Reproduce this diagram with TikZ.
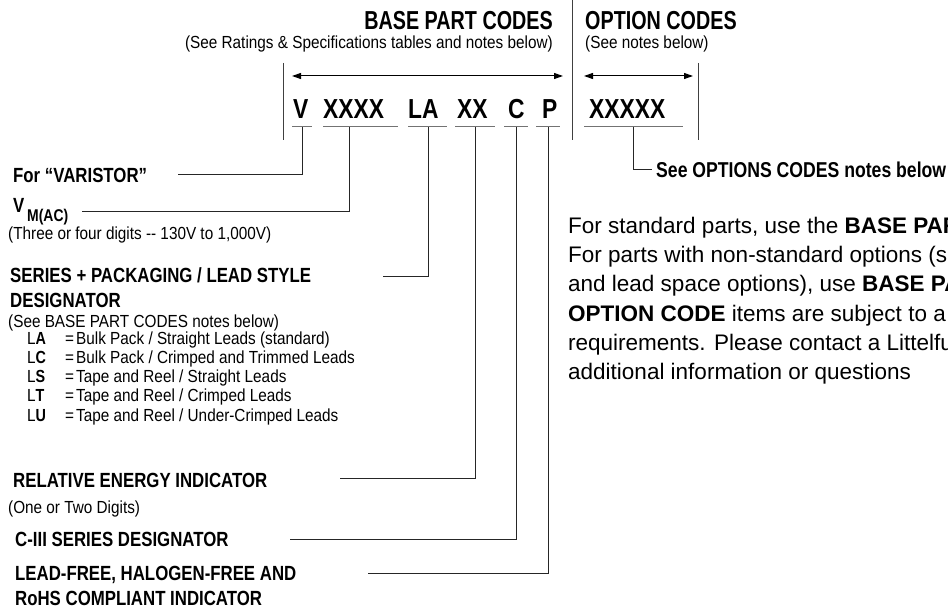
\documentclass[tikz,border=0pt]{standalone}
\usepackage{fontspec}
\setmainfont{Liberation Sans}
\newfontfamily\condB{Liberation Sans}[FakeStretch=0.82]
\newfontfamily\condR{Liberation Sans}[FakeStretch=0.875]
\newfontfamily\condT{Liberation Sans}[FakeStretch=0.76]
\newfontfamily\condC{Liberation Sans}[FakeStretch=0.83]
\usetikzlibrary{arrows.meta}
\begin{document}
\begin{tikzpicture}[x=1pt,y=-1pt,
  lbl/.style={anchor=base west,inner sep=0pt,font=\condB\bfseries\fontsize{20.5}{22}\selectfont},
  lblsub/.style={anchor=base west,inner sep=0pt,font=\condB\bfseries\fontsize{17}{18}\selectfont},
  note/.style={anchor=base west,inner sep=0pt,font=\condR\fontsize{17.5}{19}\selectfont},
  noter/.style={anchor=base east,inner sep=0pt,font=\condR\fontsize{17.5}{19}\selectfont},
  codetxt/.style={anchor=base west,inner sep=0pt,font=\condC\bfseries\fontsize{27.5}{29}\selectfont},
  ttlr/.style={anchor=base east,inner sep=0pt,font=\condT\bfseries\fontsize{26}{27}\selectfont},
  ttll/.style={anchor=base west,inner sep=0pt,font=\condT\bfseries\fontsize{26}{27}\selectfont},
  para/.style={anchor=base west,inner sep=0pt,font=\fontsize{22.5}{24}\selectfont},
  lead/.style={line width=1pt,black!85},
  uline/.style={line width=1pt,black!55},
  frame/.style={line width=1pt,black!75},
  arr/.style={line width=1pt,black,{Triangle[length=9pt,width=6pt]}-{Triangle[length=9pt,width=6pt]}}]
\useasboundingbox (0,0) rectangle (948,609);
\clip (0,0) rectangle (948,609);

% titles
\node[ttlr] (tbase) at (553,30) {BASE PART CODES};
\node[noter] (sbase) at (553,49) {(See Ratings \& Specifications tables and notes below)};
\node[ttll] (topt) at (585,30) {OPTION CODES};
\node[note] (sopt) at (585,49) {(See notes below)};

% frame lines
\draw[frame] (283,63) -- (283,140);
\draw[frame] (572,0) -- (572,140);
\draw[frame] (698,63) -- (698,140);

% range arrows
\coordinate (ab1) at (292,76); \coordinate (ab2) at (563,76);
\coordinate (ao1) at (584,76); \coordinate (ao2) at (693,76);
\draw[arr] (ab1) -- (ab2);
\draw[arr] (ao1) -- (ao2);

% code letters
\node[codetxt] (cV) at (293,119) {V};
\node[codetxt] (cX) at (323,119) {XXXX};
\node[codetxt] (cLA) at (408,119) {LA};
\node[codetxt] (cXX) at (457,119) {XX};
\node[codetxt] (cC) at (508,119) {C};
\node[codetxt] (cP) at (542,119) {P};
\node[codetxt] (cO) at (589,119) {XXXXX};

% underlines
\draw[uline] (292,127) -- (312,127);
\draw[uline] (323,127) -- (398,127);
\draw[uline] (408,127) -- (447,127);
\draw[uline] (455,127) -- (495,127);
\draw[uline] (504,127) -- (528,127);
\draw[uline] (536,127) -- (560,127);
\draw[uline] (584,127) -- (683,127);

\coordinate (uV) at (302,127);
\coordinate (uX) at (349,127);
\coordinate (uLA) at (428,127);
\coordinate (uXX) at (475,127);
\coordinate (uC) at (516,127);
\coordinate (uP) at (548,127);
\coordinate (uO) at (633,127);

% left labels
\node[lbl] (var) at (13,183) {For “VARISTOR”};
\node[lbl] (vm) at (13,213) {V};
\node[lblsub] (vmsub) at (27,222) {M(AC)};
\node[note] (vmn) at (8,240) {(Three or four digits {-}{-} 130V to 1,000V)};
\node[lbl] (ser1) at (10,283) {SERIES + PACKAGING / LEAD STYLE};
\node[lbl] (ser2) at (10,308) {DESIGNATOR};
\node[note] (sern) at (8,328) {(See BASE PART CODES notes below)};

\node[note] (k1) at (27,345) {L{\condB\bfseries A}};
\node[note] (e1) at (65,345) {=};
\node[note] (t1) at (76,345) {Bulk Pack / Straight Leads (standard)};
\node[note] (k2) at (27,364) {L{\condB\bfseries C}};
\node[note] (e2) at (65,364) {=};
\node[note] (t2) at (76,364) {Bulk Pack / Crimped and Trimmed Leads};
\node[note] (k3) at (27,383) {L{\condB\bfseries S}};
\node[note] (e3) at (65,383) {=};
\node[note] (t3) at (76,383) {Tape and Reel / Straight Leads};
\node[note] (k4) at (27,402) {L{\condB\bfseries T}};
\node[note] (e4) at (65,402) {=};
\node[note] (t4) at (76,402) {Tape and Reel / Crimped Leads};
\node[note] (k5) at (27,421) {L{\condB\bfseries U}};
\node[note] (e5) at (65,421) {=};
\node[note] (t5) at (76,421) {Tape and Reel / Under-Crimped Leads};

\node[lbl] (rel) at (13,487) {RELATIVE ENERGY INDICATOR};
\node[note] (reln) at (8,513) {(One or Two Digits)};
\node[lbl] (c3) at (15,546) {C-III SERIES DESIGNATOR};
\node[lbl] (lf1) at (15,580) {LEAD-FREE, HALOGEN-FREE AND};
\node[lbl] (lf2) at (15,605) {RoHS COMPLIANT INDICATOR};

% leader start points
\coordinate (sV) at (178,175);
\coordinate (sX) at (82,212);
\coordinate (sLA) at (383,277);
\coordinate (sXX) at (340,478);
\coordinate (sC) at (290,539);
\coordinate (sP) at (368,573);

\draw[lead] (sV) -| (uV);
\draw[lead] (sX) -| (uX);
\draw[lead] (sLA) -| (uLA);
\draw[lead] (sXX) -| (uXX);
\draw[lead] (sC) -| (uC);
\draw[lead] (sP) -| (uP);

% option leader
\node[lbl,font=\condB\bfseries\fontsize{21.5}{23}\selectfont] (seeopt) at (656,178) {See OPTIONS CODES notes below};
\coordinate (sO) at (652,170);
\draw[lead] (uO) |- (sO);

% paragraph
\node[para] (p1) at (568,234) {For standard parts, use the \textbf{BASE PART}};
\node[para] (p2) at (568,263) {For parts with non-standard options (such};
\node[para] (p3) at (568,292) {and lead space options), use \textbf{BASE PART}};
\node[para] (p4) at (568,322) {\textbf{OPTION CODE} items are subject to a};
\node[para] (p5) at (568,351) {requirements. Please contact a Littelfuse};
\node[para] (p6) at (568,380) {additional information or questions};
\end{tikzpicture}
\end{document}
